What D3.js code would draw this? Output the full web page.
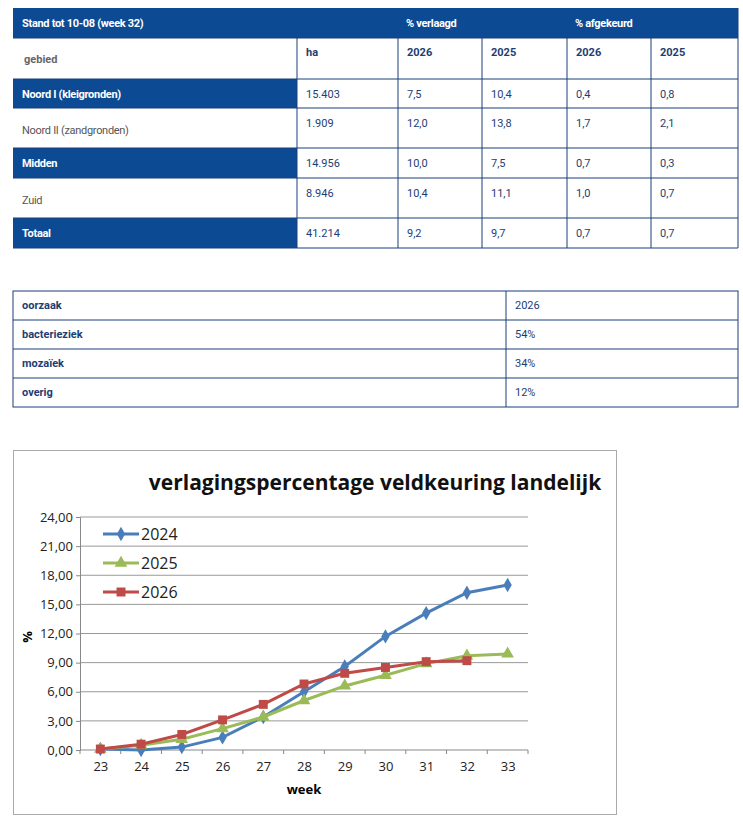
<!DOCTYPE html>
<html><head><meta charset="utf-8">
<script src="https://cdn.jsdelivr.net/npm/d3@7"></script>
<style>body{margin:0;background:#fff}svg{display:block}</style>
</head><body>
<svg width="743" height="832"></svg>
<script>
const regions = ["Noord I (kleigronden)", "Noord II (zandgronden)", "Midden", "Zuid", "Totaal"];
const regionHighlight = [true, false, true, false, true];
const hectares = ["15.403", "1.909", "14.956", "8.946", "41.214"];
const lowered2026 = ["7,5", "12,0", "10,0", "10,4", "9,2"];
const lowered2025 = ["10,4", "13,8", "7,5", "11,1", "9,7"];
const rejected2026 = ["0,4", "1,7", "0,7", "1,0", "0,7"];
const rejected2025 = ["0,8", "2,1", "0,3", "0,7", "0,7"];

const causes = ["bacterieziek", "mozaïek", "overig"];
const causeShares = ["54%", "34%", "12%"];

const weeks = [23, 24, 25, 26, 27, 28, 29, 30, 31, 32, 33];
const s2024 = [0.1, 0, 0.3, 1.3, 3.4, 6.0, 8.6, 11.7, 14.1, 16.2, 17.0];
const s2025 = [0.1, 0.5, 1.1, 2.2, 3.4, 5.1, 6.6, 7.7, 8.9, 9.7, 9.9];
const s2026 = [0.1, 0.6, 1.6, 3.1, 4.7, 6.8, 7.9, 8.5, 9.1, 9.2];
const yTicks = [0, 3, 6, 9, 12, 15, 18, 21, 24];

const svg = d3.select("svg");
const blue = "#0d4a94", line = "#1b3f78", txt = "#1d3e73";
const F = "Roboto, 'Liberation Sans', sans-serif";

// ---- table 1
const colX = [13, 297, 398, 482, 567, 651, 738];
const rowY = [8, 38, 79, 108, 148, 178, 218, 248];
const t1 = svg.append("g");
t1.append("rect").attr("x", 13).attr("y", 8).attr("width", 725).attr("height", 30).attr("fill", blue);
t1.append("text").attr("x", 22).attr("y", 27).text("Stand tot 10-08 (week 32)");
t1.append("text").attr("x", 406).attr("y", 27).text("% verlaagd");
t1.append("text").attr("x", 575).attr("y", 27).text("% afgekeurd");
t1.selectAll("text").attr("fill", "#fff").attr("font-weight", "bold").attr("font-size", 11).attr("font-family", F).attr("letter-spacing", -0.3);

const sub = ["gebied", "ha", "2026", "2025", "2026", "2025"];
sub.forEach((s, i) => {
  t1.append("text").attr("x", colX[i] + (i ? 9 : 11)).attr("y", i ? 56 : 63).text(s)
    .attr("font-size", 11).attr("font-weight", "bold").attr("font-family", F)
    .attr("fill", i ? txt : "#666");
});
regions.forEach((r, k) => {
  const y0 = rowY[k + 2], y1 = rowY[k + 3];
  if (regionHighlight[k]) t1.append("rect").attr("x", 13).attr("y", y0).attr("width", 284).attr("height", y1 - y0).attr("fill", blue);
  const cy = regionHighlight[k] ? (y0 + y1) / 2 + 4 : (y0 + y1) / 2 + 6;
  t1.append("text").attr("x", 22).attr("y", cy).text(r)
    .attr("font-size", 11).attr("font-family", F).attr("letter-spacing", -0.3)
    .attr("font-weight", regionHighlight[k] ? "bold" : "normal")
    .attr("fill", regionHighlight[k] ? "#fff" : "#555");
  [hectares, lowered2026, lowered2025, rejected2026, rejected2025].forEach((arr, j) => {
    t1.append("text").attr("x", colX[j + 1] + 9).attr("y", regionHighlight[k] ? cy : y0 + 19).text(arr[k])
      .attr("font-size", 11).attr("font-family", F).attr("fill", txt);
  });
});
t1.append("g").selectAll("line").data(rowY.slice(1)).join("line")
  .attr("x1", 13).attr("x2", 738).attr("y1", d => d).attr("y2", d => d).attr("stroke", line);
t1.append("g").selectAll("line").data(colX.slice(1, 6)).join("line")
  .attr("x1", d => d).attr("x2", d => d).attr("y1", 38).attr("y2", 248).attr("stroke", line);
t1.append("line").attr("x1", 738).attr("x2", 738).attr("y1", 8).attr("y2", 248).attr("stroke", line);

// ---- table 2
const t2 = svg.append("g");
const r2 = [291, 320, 349, 378, 407];
const rows2 = [["oorzaak", "2026"]].concat(causes.map((c, i) => [c, causeShares[i]]));
rows2.forEach((r, i) => {
  t2.append("text").attr("x", 22).attr("y", r2[i] + 18).text(r[0]).attr("font-size", 11).attr("font-weight", "bold").attr("font-family", F).attr("fill", txt);
  t2.append("text").attr("x", 515).attr("y", r2[i] + 18).text(r[1]).attr("font-size", 11).attr("font-family", F).attr("fill", txt);
});
t2.append("rect").attr("x", 13).attr("y", 291).attr("width", 725).attr("height", 116).attr("fill", "none").attr("stroke", line);
t2.selectAll("line.h").data(r2.slice(1, 4)).join("line").attr("x1", 13).attr("x2", 738).attr("y1", d => d).attr("y2", d => d).attr("stroke", line);
t2.append("line").attr("x1", 506).attr("x2", 506).attr("y1", 291).attr("y2", 407).attr("stroke", line);

// ---- chart
const c = svg.append("g");
c.append("rect").attr("x", 13.5).attr("y", 450.5).attr("width", 603).attr("height", 364).attr("fill", "#fff").attr("stroke", "#aaa");
c.append("text").attr("x", 375).attr("y", 490).attr("text-anchor", "middle").text("verlagingspercentage veldkeuring landelijk")
  .attr("font-size", 21).attr("font-weight", "bold").attr("font-family", "'Open Sans', sans-serif").attr("fill", "#111");

const x = d3.scalePoint().domain(weeks).range([80, 528]).padding(0.5);
const y = d3.scaleLinear().domain([0, 24]).range([750, 517]);
c.append("g").selectAll("line").data(yTicks.slice(1)).join("line")
  .attr("x1", 80).attr("x2", 528).attr("y1", d => y(d)).attr("y2", d => y(d)).attr("stroke", "#999");
const ya = c.append("g").attr("transform", "translate(80,0)")
  .call(d3.axisLeft(y).tickValues(yTicks).tickSize(4).tickFormat(d => d3.format(".2f")(d).replace(".", ",")));
const xa = c.append("g").attr("transform", "translate(0,750)")
  .call(d3.axisBottom(x).tickSize(0).tickPadding(12));
xa.select(".domain").attr("d", "M80,0H528");
c.append("g").attr("transform", "translate(0,750)").selectAll("line")
  .data(d3.range(weeks.length + 1)).join("line")
  .attr("x1", i => 80 + i * 448 / 11).attr("x2", i => 80 + i * 448 / 11).attr("y1", 0).attr("y2", 4).attr("stroke", "#888");
[ya, xa].forEach(a => {
  a.selectAll("text").attr("font-size", 13).attr("font-family", "'Open Sans', sans-serif").attr("fill", "#222");
  a.select(".domain").attr("stroke", "#888");
  a.selectAll(".tick line").attr("stroke", "#888");
});
c.append("text").attr("x", 304).attr("y", 794).attr("text-anchor", "middle").text("week")
  .attr("font-size", 13).attr("font-weight", "bold").attr("font-family", "'Open Sans', sans-serif");
c.append("text").attr("transform", "translate(32,637) rotate(-90)").attr("text-anchor", "middle").text("%")
  .attr("font-size", 13).attr("font-weight", "bold").attr("font-family", "'Open Sans', sans-serif");

const series = [
  { name: "2024", vals: s2024, color: "#4a7ebb", sym: d3.symbolDiamond, size: 60 },
  { name: "2025", vals: s2025, color: "#9bbb59", sym: d3.symbolTriangle, size: 70 },
  { name: "2026", vals: s2026, color: "#be4b48", sym: d3.symbolSquare, size: 80 }
];
const ln = d3.line().x((d, i) => x(weeks[i])).y(d => y(d));
series.forEach((s, k) => {
  const g = c.append("g");
  g.append("path").attr("d", ln(s.vals)).attr("fill", "none").attr("stroke", s.color).attr("stroke-width", 3);
  g.selectAll("path.m").data(s.vals).join("path").attr("class", "m")
    .attr("transform", (d, i) => `translate(${x(weeks[i])},${y(d)})`)
    .attr("d", d3.symbol(s.sym, s.size)).attr("fill", s.color);
  const ly = 534 + k * 29;
  g.append("line").attr("x1", 103).attr("x2", 139).attr("y1", ly).attr("y2", ly).attr("stroke", s.color).attr("stroke-width", 3);
  g.append("path").attr("transform", `translate(121,${ly})`).attr("d", d3.symbol(s.sym, s.size)).attr("fill", s.color);
  g.append("text").attr("x", 141).attr("y", ly + 6).text(s.name).attr("font-size", 16).attr("font-family", "'Open Sans', sans-serif").attr("fill", "#222");
});
</script>
</body></html>
